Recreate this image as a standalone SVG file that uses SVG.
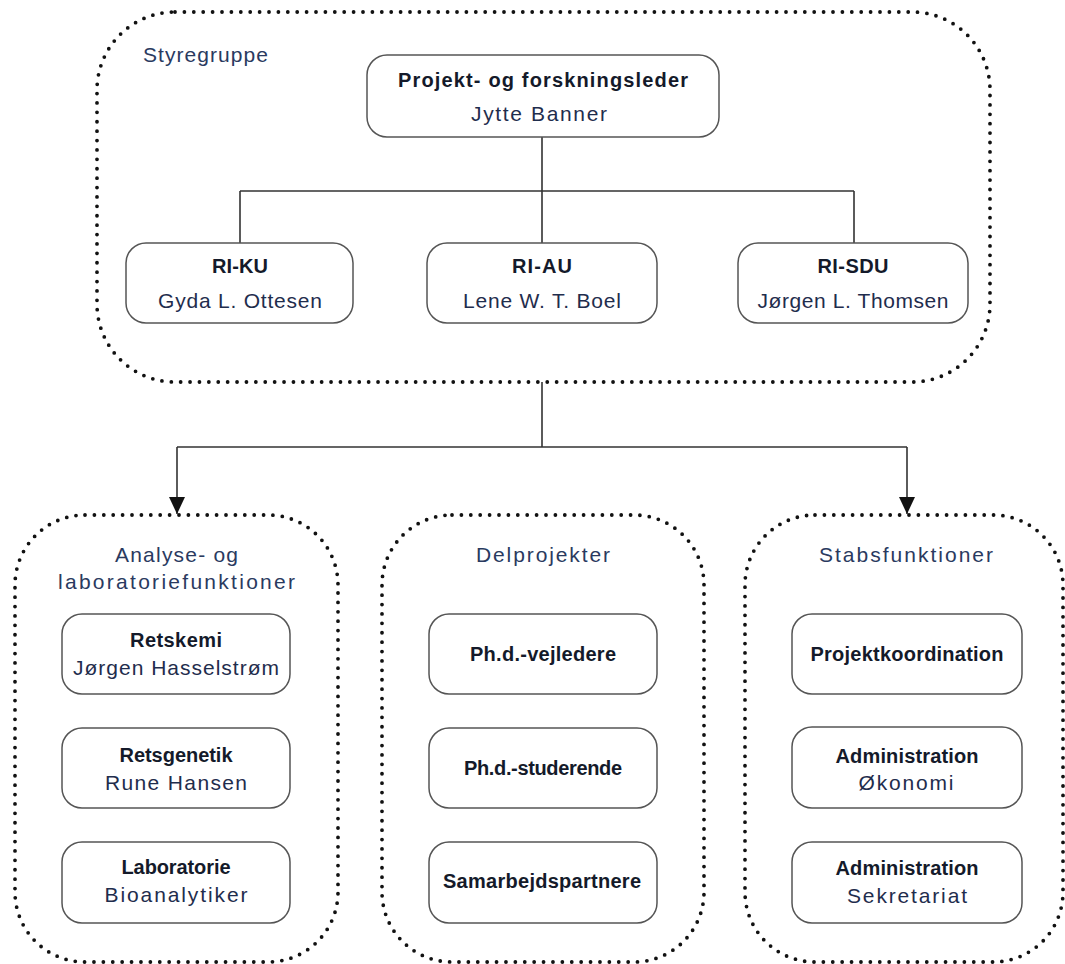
<svg xmlns="http://www.w3.org/2000/svg" width="1065" height="964" viewBox="0 0 1065 964">
<style>
.bg{fill:#ffffff}
.grp{fill:none;stroke:#111;stroke-width:3.8;stroke-dasharray:0 9.4;stroke-linecap:round}
.box{fill:#fff;stroke:#555;stroke-width:1.5}
.line{fill:none;stroke:#333;stroke-width:1.6}
.b{font-family:"Liberation Sans",Arial,sans-serif;font-size:20px;font-weight:bold;fill:#141a2a;text-anchor:middle}
.r{font-family:"Liberation Sans",Arial,sans-serif;font-size:21px;fill:#1f2d4d;text-anchor:middle}
.h{font-family:"Liberation Sans",Arial,sans-serif;font-size:21px;fill:#2a3a60;text-anchor:middle}
</style>
<defs>
<marker id="arr" viewBox="0 0 18 16" refX="17" refY="8" markerWidth="18" markerHeight="16" markerUnits="userSpaceOnUse" orient="auto">
<path d="M0,0 L17,8 L0,16 Z" fill="#111"/>
</marker>
</defs>
<rect class="bg" x="0" y="0" width="1065" height="964"/>

<g id="styregruppe">
<rect class="grp" x="97" y="12" width="893" height="370" rx="78" ry="78"/>
<text class="h" x="143" y="62" style="text-anchor:start" textLength="125" lengthAdjust="spacing">Styregruppe</text>
</g>

<g id="analyse">
<rect class="grp" x="15" y="515" width="323" height="447" rx="70" ry="70"/>
<text class="h" x="176.5" y="562" textLength="123" lengthAdjust="spacing">Analyse- og</text>
<text class="h" x="176.5" y="589" textLength="237" lengthAdjust="spacing">laboratoriefunktioner</text>
</g>

<g id="delprojekter">
<rect class="grp" x="382" y="515" width="322" height="447" rx="70" ry="70"/>
<text class="h" x="543" y="562" textLength="134" lengthAdjust="spacing">Delprojekter</text>
</g>

<g id="stabsfunktioner">
<rect class="grp" x="745" y="515" width="318" height="447" rx="70" ry="70"/>
<text class="h" x="906" y="562" textLength="174" lengthAdjust="spacing">Stabsfunktioner</text>
</g>

<g id="connectors">
<path class="line" d="M542 137 V191 M240 191 H854 M240 191 V243 M542 191 V243 M854 191 V243"/>
<path class="line" d="M542 382 V447 M177 447 H907"/>
<path class="line" d="M177 447 V514" marker-end="url(#arr)"/>
<path class="line" d="M907 447 V514" marker-end="url(#arr)"/>
</g>

<g id="leder">
<rect class="box" x="367" y="55" width="352" height="82" rx="20" ry="20"/>
<text class="b" x="543" y="87" textLength="290" lengthAdjust="spacing">Projekt- og forskningsleder</text>
<text class="r" x="539" y="121" textLength="136" lengthAdjust="spacing">Jytte Banner</text>
</g>

<g id="ri-ku">
<rect class="box" x="126" y="243" width="227" height="80" rx="20" ry="20"/>
<text class="b" x="240" y="273" textLength="56" lengthAdjust="spacing">RI-KU</text>
<text class="r" x="240" y="308" textLength="164" lengthAdjust="spacing">Gyda L. Ottesen</text>
</g>

<g id="ri-au">
<rect class="box" x="427" y="243" width="230" height="80" rx="20" ry="20"/>
<text class="b" x="542" y="273" textLength="60" lengthAdjust="spacing">RI-AU</text>
<text class="r" x="542" y="308" textLength="158" lengthAdjust="spacing">Lene W. T. Boel</text>
</g>

<g id="ri-sdu">
<rect class="box" x="738" y="243" width="230" height="80" rx="20" ry="20"/>
<text class="b" x="853" y="273" textLength="71" lengthAdjust="spacing">RI-SDU</text>
<text class="r" x="853" y="308" textLength="191" lengthAdjust="spacing">Jørgen L. Thomsen</text>
</g>

<g id="retskemi">
<rect class="box" x="62" y="614" width="228" height="80" rx="20" ry="20"/>
<text class="b" x="176" y="647" textLength="92" lengthAdjust="spacing">Retskemi</text>
<text class="r" x="176" y="675" textLength="206" lengthAdjust="spacing">Jørgen Hasselstrøm</text>
</g>

<g id="retsgenetik">
<rect class="box" x="62" y="728" width="228" height="80" rx="20" ry="20"/>
<text class="b" x="176" y="762" textLength="113" lengthAdjust="spacing">Retsgenetik</text>
<text class="r" x="176" y="790" textLength="142" lengthAdjust="spacing">Rune Hansen</text>
</g>

<g id="laboratorie">
<rect class="box" x="62" y="842" width="228" height="81" rx="20" ry="20"/>
<text class="b" x="176" y="874" textLength="109" lengthAdjust="spacing">Laboratorie</text>
<text class="r" x="176" y="902" textLength="143" lengthAdjust="spacing">Bioanalytiker</text>
</g>

<g id="vejledere">
<rect class="box" x="429" y="614" width="228" height="80" rx="20" ry="20"/>
<text class="b" x="543" y="661" textLength="146" lengthAdjust="spacing">Ph.d.-vejledere</text>
</g>

<g id="studerende">
<rect class="box" x="429" y="728" width="228" height="80" rx="20" ry="20"/>
<text class="b" x="543" y="775" textLength="158" lengthAdjust="spacing">Ph.d.-studerende</text>
</g>

<g id="samarbejdspartnere">
<rect class="box" x="429" y="842" width="228" height="81" rx="20" ry="20"/>
<text class="b" x="542" y="888" textLength="198" lengthAdjust="spacing">Samarbejdspartnere</text>
</g>

<g id="projektkoordination">
<rect class="box" x="792" y="614" width="230" height="80" rx="20" ry="20"/>
<text class="b" x="907" y="661" textLength="193" lengthAdjust="spacing">Projektkoordination</text>
</g>

<g id="administration-okonomi">
<rect class="box" x="792" y="727" width="230" height="81" rx="20" ry="20"/>
<text class="b" x="907" y="763" textLength="143" lengthAdjust="spacing">Administration</text>
<text class="r" x="906" y="790" textLength="95" lengthAdjust="spacing">Økonomi</text>
</g>

<g id="administration-sekretariat">
<rect class="box" x="792" y="842" width="230" height="81" rx="20" ry="20"/>
<text class="b" x="907" y="875" textLength="143" lengthAdjust="spacing">Administration</text>
<text class="r" x="907" y="903" textLength="120" lengthAdjust="spacing">Sekretariat</text>
</g>
</svg>
